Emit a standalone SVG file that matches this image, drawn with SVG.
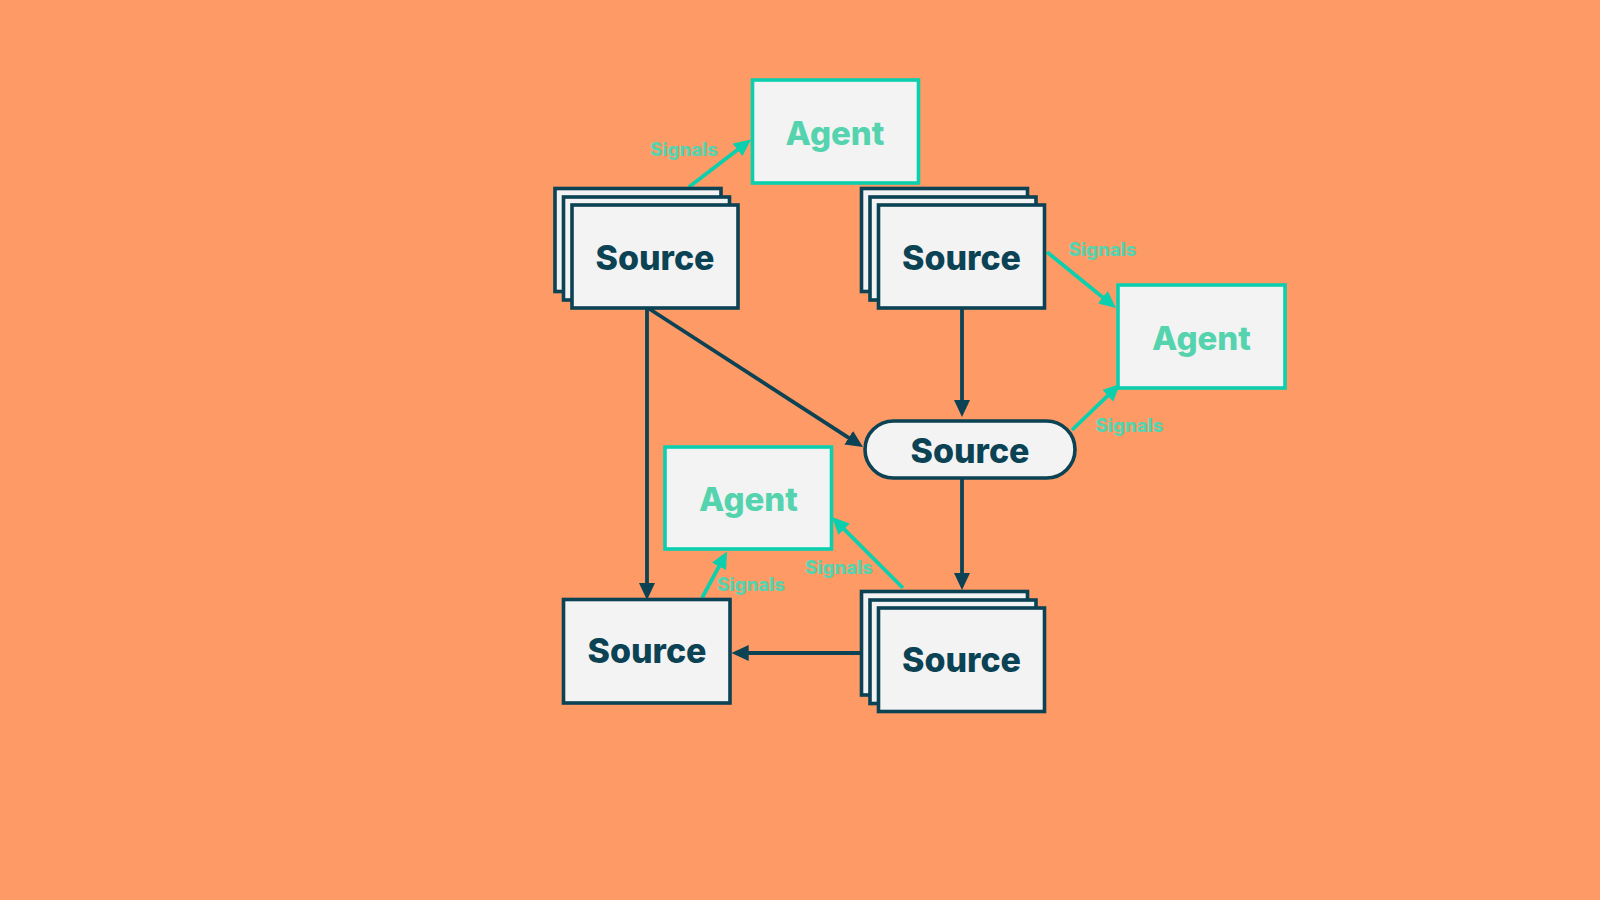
<svg xmlns="http://www.w3.org/2000/svg" width="1600" height="900" viewBox="0 0 1600 900">
<style>
.bg{fill:#fe9a66}
.src{fill:#f3f3f3;stroke:#0b4254;stroke-width:3.6}
.agt{fill:#f3f3f3;stroke:#0ccfad;stroke-width:3.6}
.st{font-family:Inter,"Liberation Sans",sans-serif;font-weight:800;font-size:34px;fill:#0b4254;text-anchor:middle}
.at{font-family:Inter,"Liberation Sans",sans-serif;font-weight:800;font-size:33px;fill:#55d3ae;text-anchor:middle}
.sig{font-family:Inter,"Liberation Sans",sans-serif;font-weight:800;font-size:18.5px;fill:#55d3ae;text-anchor:middle}
.dk{stroke:#0b4254;stroke-width:3.8;fill:none;marker-end:url(#ad)}
.tl{stroke:#0ccfad;stroke-width:3.8;fill:none;marker-end:url(#at)}
</style>
<defs>
<marker id="ad" markerUnits="userSpaceOnUse" markerWidth="17" markerHeight="16" viewBox="0 0 17 16" refX="7" refY="8" orient="auto"><path d="M0,0 L17,8 L0,16 Z" fill="#0b4254"/></marker>
<marker id="at" markerUnits="userSpaceOnUse" markerWidth="17" markerHeight="16" viewBox="0 0 17 16" refX="7" refY="8" orient="auto"><path d="M0,0 L17,8 L0,16 Z" fill="#0ccfad"/></marker>
</defs>
<rect class="bg" x="0" y="0" width="1600" height="900"/>
<g id="connectors">
<line class="tl" x1="689" y1="187" x2="743.1" y2="145.6"/>
<line class="dk" x1="648" y1="308" x2="854.6" y2="441.6"/>
<line class="dk" x1="647" y1="308" x2="647" y2="590"/>
<line class="dk" x1="962" y1="309" x2="962" y2="407"/>
<line class="tl" x1="1047" y1="252" x2="1108.2" y2="301.7"/>
<line class="tl" x1="1072" y1="430" x2="1112.8" y2="390.9"/>
<line class="dk" x1="962" y1="479" x2="962" y2="580"/>
<line class="dk" x1="860" y1="653" x2="741.7" y2="653"/>
<line class="tl" x1="702" y1="598" x2="722.3" y2="560.3"/>
<line class="tl" x1="903" y1="588" x2="839.1" y2="524.1"/>
<text class="sig" x="684" y="156">Signals</text>
<text class="sig" x="1102.5" y="256">Signals</text>
<text class="sig" x="1129.5" y="432">Signals</text>
<text class="sig" x="751" y="591">Signals</text>
<text class="sig" x="839" y="574">Signals</text>
</g>
<g id="agent-top">
<rect class="agt" x="752.5" y="80" width="166" height="103"/>
<text class="at" x="835" y="145">Agent</text>
</g>
<g id="source-tl">
<rect class="src" x="555" y="188.5" width="166" height="103"/>
<rect class="src" x="563.5" y="197" width="166" height="103"/>
<rect class="src" x="572" y="205" width="166" height="103"/>
<text class="st" x="655" y="270">Source</text>
</g>
<g id="source-tr">
<rect class="src" x="861.5" y="188.5" width="166" height="103"/>
<rect class="src" x="870" y="197" width="166" height="103"/>
<rect class="src" x="878.5" y="205" width="166" height="103"/>
<text class="st" x="961.5" y="270">Source</text>
</g>
<g id="agent-right">
<rect class="agt" x="1118" y="285" width="167" height="103"/>
<text class="at" x="1201.5" y="350">Agent</text>
</g>
<g id="source-pill">
<rect class="src" x="865" y="421" width="210" height="57" rx="28.5"/>
<text class="st" x="970" y="463">Source</text>
</g>
<g id="agent-bl">
<rect class="agt" x="665" y="447" width="166.5" height="102"/>
<text class="at" x="748.5" y="511">Agent</text>
</g>
<g id="source-bl">
<rect class="src" x="563.5" y="599.5" width="166.5" height="103.5"/>
<text class="st" x="647" y="663">Source</text>
</g>
<g id="source-br">
<rect class="src" x="861.5" y="591.5" width="166" height="103.5"/>
<rect class="src" x="870" y="600" width="166" height="103.5"/>
<rect class="src" x="878.5" y="608" width="166" height="103.5"/>
<text class="st" x="961.5" y="672">Source</text>
</g>
</svg>
